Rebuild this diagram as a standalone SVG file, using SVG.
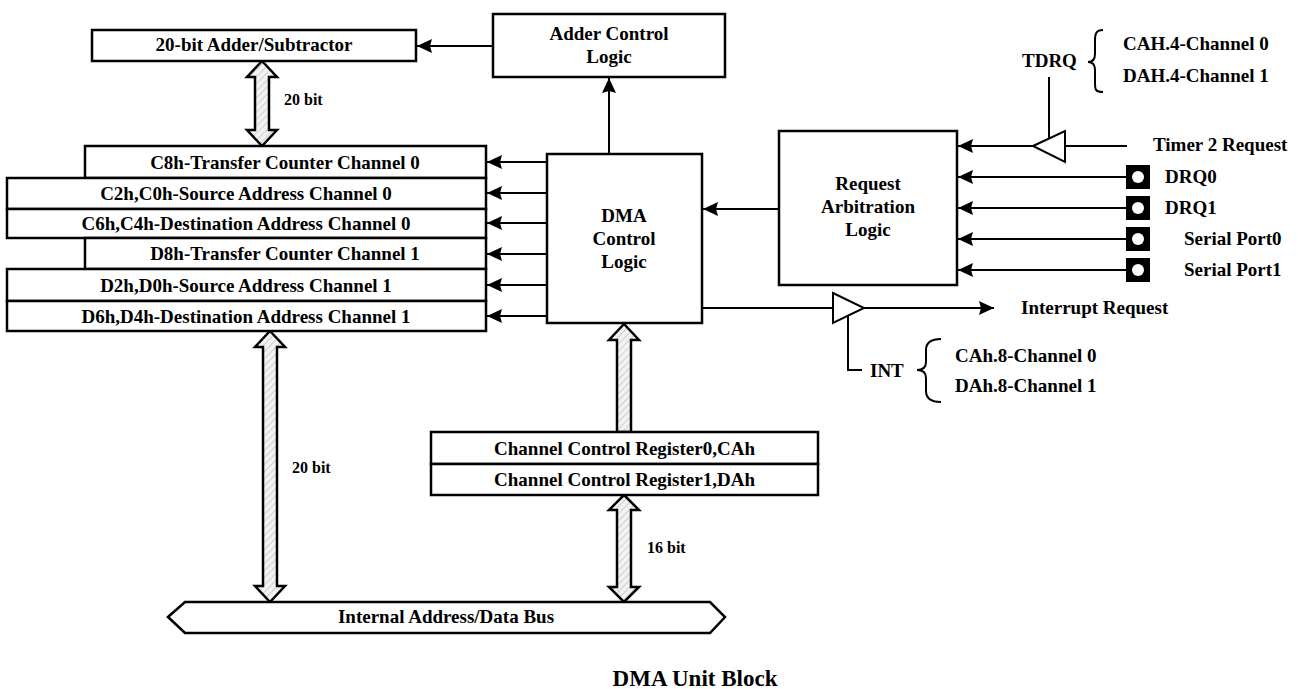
<svg xmlns="http://www.w3.org/2000/svg" width="1298" height="689" viewBox="0 0 1298 689">
<style>
text{font-family:"Liberation Serif","Times New Roman",serif;font-weight:bold;font-size:19px;fill:#000}
.c{text-anchor:middle}
.s{font-size:16px}
.box{fill:#fff;stroke:#000;stroke-width:2.5}
.ln{fill:none;stroke:#000;stroke-width:2}
.arr{fill:none;stroke:#000;stroke-width:2;marker-end:url(#ah)}
.big{fill:url(#hatch);stroke:#000;stroke-width:2.5;stroke-linejoin:miter}
.tri{fill:#fff;stroke:#000;stroke-width:2}
</style>
<defs>
<marker id="ah" markerWidth="16" markerHeight="14" refX="15" refY="7" orient="auto" markerUnits="userSpaceOnUse">
<path d="M0,0 L15,7 L0,14 L2,7 z" fill="#000"/>
</marker>
<pattern id="hatch" width="5" height="5" patternUnits="userSpaceOnUse" patternTransform="rotate(45)">
<rect width="5" height="5" fill="#f2f2f2"/>
<line x1="0" y1="0" x2="0" y2="5" stroke="#c4c4c4" stroke-width="1.5"/>
</pattern>
<g id="port"><rect x="-12" y="-12" width="24" height="24" fill="#000"/><circle r="6" fill="#fff"/></g>
</defs>
<rect width="1298" height="689" fill="#fff"/>

<g id="connectors">
<line class="arr" x1="493" y1="46" x2="417" y2="46"/>
<line class="arr" x1="609" y1="154" x2="609" y2="78"/>
<line class="arr" x1="547" y1="162" x2="487" y2="162"/>
<line class="arr" x1="547" y1="193" x2="487" y2="193"/>
<line class="arr" x1="547" y1="223" x2="487" y2="223"/>
<line class="arr" x1="547" y1="254" x2="487" y2="254"/>
<line class="arr" x1="547" y1="285" x2="487" y2="285"/>
<line class="arr" x1="547" y1="316" x2="487" y2="316"/>
<line class="arr" x1="779" y1="209" x2="703" y2="209"/>
<line class="arr" x1="1033" y1="146" x2="958" y2="146"/>
<line class="ln" x1="1065" y1="146" x2="1127" y2="146"/>
<line class="ln" x1="1049" y1="77" x2="1049" y2="139"/>
<line class="arr" x1="1126" y1="177" x2="958" y2="177"/>
<line class="arr" x1="1126" y1="208" x2="958" y2="208"/>
<line class="arr" x1="1126" y1="239" x2="958" y2="239"/>
<line class="arr" x1="1126" y1="270" x2="958" y2="270"/>
<line class="ln" x1="702" y1="308" x2="833" y2="308"/>
<line class="arr" x1="864" y1="308" x2="994" y2="308"/>
<polyline class="ln" points="848,316 848,370 862,370"/>
<path class="big" d="M262,61 L277,77 L269,77 L269,130 L277,130 L262,146 L247,130 L255,130 L255,77 L247,77 Z"/>
<path class="big" d="M270,331 L285,347 L277,347 L277,586 L285,586 L270,602 L255,586 L263,586 L263,347 L255,347 Z"/>
<path class="big" d="M624,324 L639,340 L631,340 L631,432 L617,432 L617,340 L609,340 Z"/>
<path class="big" d="M624,495 L639,510 L631,510 L631,587 L639,587 L624,602 L609,587 L617,587 L617,510 L609,510 Z"/>
<text class="s" x="284" y="105">20 bit</text>
<text class="s" x="292" y="473">20 bit</text>
<text class="s" x="647" y="553">16 bit</text>
</g>

<g id="adder">
<rect class="box" x="92" y="30" width="324" height="31"/>
<text class="c" x="254" y="51">20-bit Adder/Subtractor</text>
</g>
<g id="adder-control">
<rect class="box" x="493" y="14" width="232" height="63"/>
<text class="c" x="609" y="40">Adder Control</text>
<text class="c" x="609" y="63">Logic</text>
</g>
<g id="registers">
<rect class="box" x="85" y="146" width="401" height="32"/>
<text class="c" x="285" y="168.5">C8h-Transfer Counter Channel 0</text>
<rect class="box" x="7" y="178" width="479" height="31"/>
<text class="c" x="246" y="200">C2h,C0h-Source Address Channel 0</text>
<rect class="box" x="7" y="209" width="479" height="29"/>
<text class="c" x="246" y="230">C6h,C4h-Destination Address Channel 0</text>
<rect class="box" x="85" y="238" width="401" height="31"/>
<text class="c" x="285" y="260">D8h-Transfer Counter Channel 1</text>
<rect class="box" x="7" y="269" width="479" height="32"/>
<text class="c" x="246" y="291.5">D2h,D0h-Source Address Channel 1</text>
<rect class="box" x="7" y="301" width="479" height="30"/>
<text class="c" x="246" y="322.5">D6h,D4h-Destination Address Channel 1</text>
</g>
<g id="dma-control">
<rect class="box" x="547" y="154" width="155" height="169"/>
<text class="c" x="624" y="222">DMA</text>
<text class="c" x="624" y="245">Control</text>
<text class="c" x="624" y="268">Logic</text>
</g>
<g id="request-arbitration">
<rect class="box" x="779" y="131" width="178" height="154"/>
<text class="c" x="868" y="190">Request</text>
<text class="c" x="868" y="213">Arbitration</text>
<text class="c" x="868" y="236">Logic</text>
</g>
<g id="tdrq-buffer">
<polygon class="tri" points="1033,146 1065,131 1065,162"/>
<text x="1022" y="67">TDRQ</text>
<path class="ln" d="M1103,30 C1096,30 1095,34 1095,40 L1095,54 C1095,59 1093,62 1088,62 C1093,62 1095,65 1095,70 L1095,84 C1095,90 1096,92 1103,92"/>
<text x="1123" y="50">CAH.4-Channel 0</text>
<text x="1123" y="82">DAH.4-Channel 1</text>
</g>
<g id="timer2"><text x="1153" y="151">Timer 2 Request</text></g>
<g id="drq0"><use href="#port" x="1138" y="177"/><text x="1165" y="183">DRQ0</text></g>
<g id="drq1"><use href="#port" x="1138" y="208"/><text x="1165" y="214">DRQ1</text></g>
<g id="serial0"><use href="#port" x="1138" y="239"/><text x="1184" y="245">Serial Port0</text></g>
<g id="serial1"><use href="#port" x="1138" y="270"/><text x="1184" y="276">Serial Port1</text></g>
<g id="int-buffer">
<polygon class="tri" points="833,293 864,308 833,323"/>
<text x="870" y="377">INT</text>
<path class="ln" d="M941,339 C930,339 926,343 926,350 L926,362 C926,367 923,370 917,370 C923,370 926,373 926,378 L926,391 C926,398 930,402 941,402"/>
<text x="955" y="362">CAh.8-Channel 0</text>
<text x="955" y="392">DAh.8-Channel 1</text>
</g>
<g id="interrupt-request"><text x="1021" y="314">Interrupt Request</text></g>
<g id="channel-control">
<rect class="box" x="431" y="432" width="387" height="32"/>
<text class="c" x="624.5" y="454.5">Channel Control Register0,CAh</text>
<rect class="box" x="431" y="464" width="387" height="31"/>
<text class="c" x="624.5" y="486">Channel Control Register1,DAh</text>
</g>
<g id="bus">
<polygon class="box" points="168,617 185,602 710,602 725,617 710,633 185,633"/>
<text class="c" x="446" y="623">Internal Address/Data Bus</text>
</g>
<g id="caption"><text class="c" x="695" y="686" style="font-size:23px">DMA Unit Block</text></g>
</svg>
